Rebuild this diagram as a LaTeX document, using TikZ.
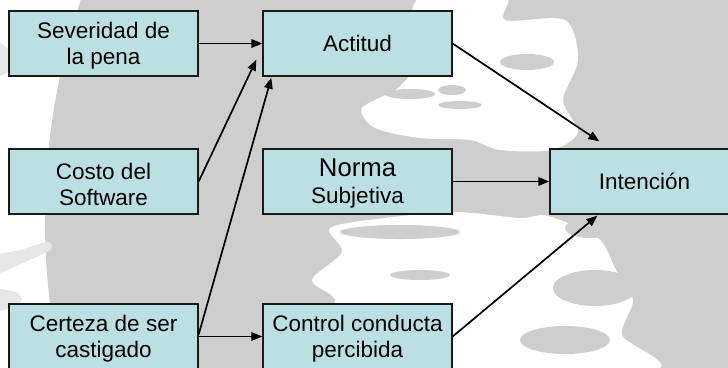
\documentclass[tikz,border=0pt]{standalone}
\usepackage{fontspec}
\setmainfont{Liberation Sans}
\usetikzlibrary{arrows.meta,calc}
\definecolor{boxfill}{RGB}{187,224,227}
\definecolor{wm}{RGB}{206,206,206}
\definecolor{wmlight}{RGB}{230,230,230}
\newcommand{\topstrut}{\rule{0pt}{21.5bp}}
\begin{document}
\begin{tikzpicture}[x=1bp,y=-1bp,
  box/.style={draw=black!90, line width=1.3bp, fill=boxfill, minimum width=189bp,
    minimum height=65bp, inner sep=0pt, align=center,
    font=\fontsize{22.6}{26.1}\selectfont},
  arr/.style={line width=1.7bp, -{Triangle[length=11bp,width=8.5bp]}},
  wmdark/.style={fill=wm},
  wmwhite/.style={fill=white}]
\useasboundingbox (0,0) rectangle (728,367);
\begin{scope}
\clip (0,0) rectangle (728,367);
% watermark
\fill[wm] (735,220) circle[radius=690bp];
\fill[wmlight] plot[smooth cycle] coordinates {(-5,42) (12,52) (22,64) (8,72) (-5,76)};
\fill[wmlight] plot[smooth cycle] coordinates {(-5,256) (20,250) (48,242) (50,250) (25,262) (-5,274)};
\fill[wmlight] plot[smooth cycle] coordinates {(-5,290) (15,292) (22,300) (10,308) (-5,310)};
\fill[wmwhite] plot[smooth cycle] coordinates {(423,-5) (505,-5) (505,20) (565,20) (578,60) (563,100) (578,132) (552,150) (500,150) (470,140) (420,138) (375,128) (362,108) (398,88) (418,60) (410,30)};
\fill[wmwhite] plot[smooth cycle] coordinates {(455,212) (520,218) (548,216) (598,238) (616,270) (633,300) (622,335) (648,372) (325,372) (318,330) (335,300) (312,280) (342,252) (330,228) (385,218)};
\fill[wmdark] (527,62) ellipse[x radius=27bp, y radius=8bp];
\fill[wmdark] (452,90) ellipse[x radius=14bp, y radius=5bp];
\fill[wmdark] (410,94) ellipse[x radius=25bp, y radius=5bp];
\fill[wmdark] (460,105) ellipse[x radius=22bp, y radius=4bp];
\fill[wmdark] (400,232) ellipse[x radius=60bp, y radius=7bp];
\fill[wmdark] (420,275) ellipse[x radius=30bp, y radius=5bp];
\fill[wmdark] (590,228) ellipse[x radius=25bp, y radius=10bp];
\fill[wmdark] (595,288) ellipse[x radius=42bp, y radius=18bp];
\fill[wmdark] (565,340) ellipse[x radius=45bp, y radius=14bp];
% boxes
\node[box] (sev) at (103.5,43.5) {\topstrut Severidad de\\la pena};
\node[box] (act) at (357.5,43.5) {Actitud};
\node[box] (cos) at (103.5,181.5) {\topstrut Costo del\\Software};
\node[box] (nor) at (357.5,181.5) {\topstrut{\fontsize{25.8}{28}\selectfont Norma}\\[1bp]Subjetiva};
\node[box] (int) at (644.5,181.5) {Intención};
\node[box] (cer) at (103.5,336.5) {\topstrut Certeza de ser\\castigado};
\node[box] (con) at (357.5,336.5) {\topstrut Control conducta\\percibida};
% connectors
\draw[arr] (sev) -- (act);
\draw[arr] (cos.east) -- ($(act.south west)+(-6,-17)$);
\draw[arr] ($(cer.east)+(0,-2)$) -- ($(act.south west)+(9,1)$);
\draw[arr] (cer) -- (con);
\draw[arr] (act.east) -- ($(int.north west)+(50,-7)$);
\draw[arr] (nor) -- (int);
\draw[arr] (con.east) -- ($(int.south west)+(48,1)$);
\end{scope}
\end{tikzpicture}
\end{document}
